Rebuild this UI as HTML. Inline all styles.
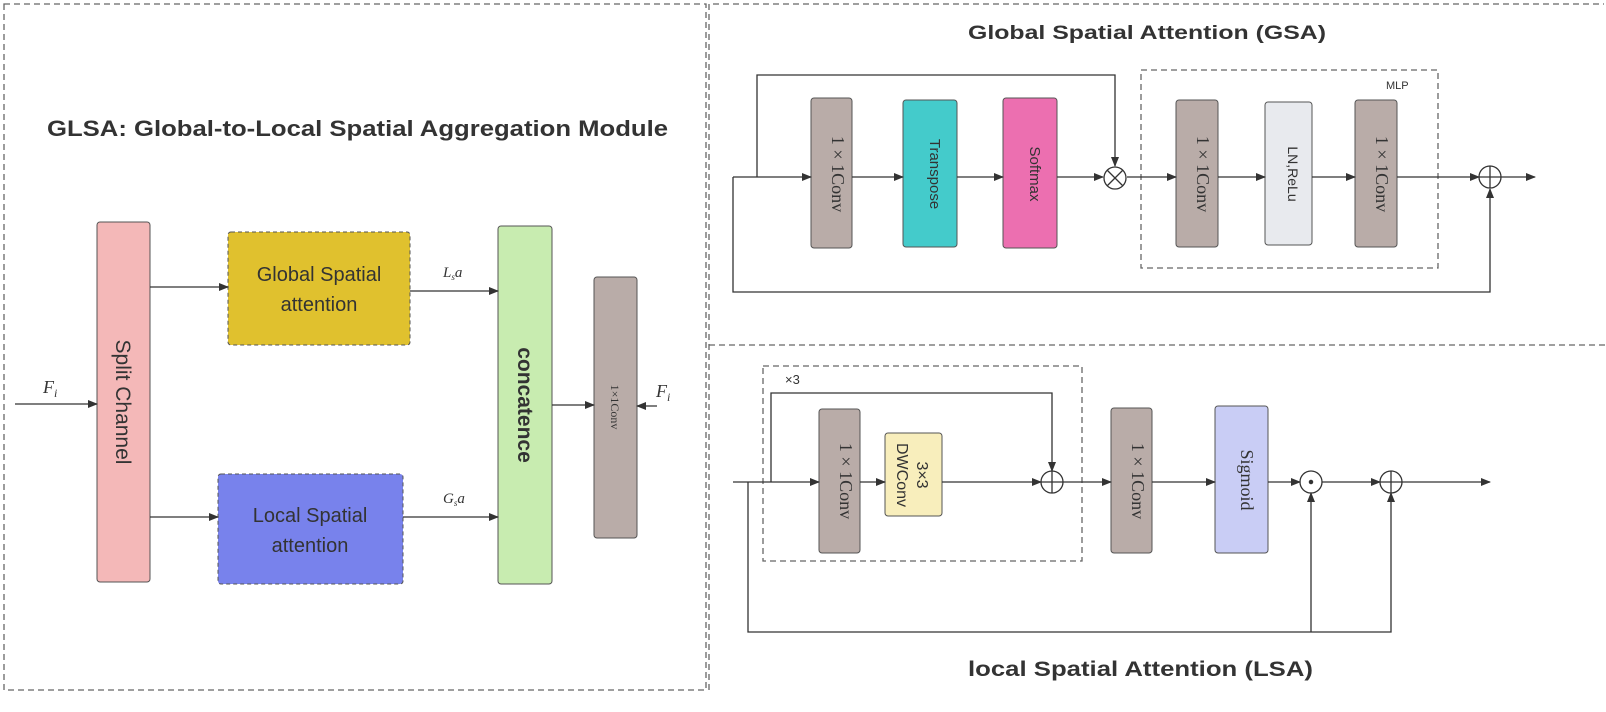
<!DOCTYPE html>
<html><head><meta charset="utf-8"><style>
html,body{margin:0;padding:0;background:#fff}
svg{display:block}
text{font-family:"Liberation Sans",sans-serif;fill:#333}
.serif{font-family:"Liberation Serif",serif}
</style></head><body>
<svg width="1606" height="712" viewBox="0 0 1606 712" xmlns="http://www.w3.org/2000/svg">
<defs>
<marker id="a" markerWidth="10" markerHeight="8" refX="9" refY="4" orient="auto" markerUnits="userSpaceOnUse">
<path d="M0,0 L10,4 L0,8 z" fill="#333"/></marker>
</defs>
<g fill="none" stroke="#666" stroke-width="1.3" stroke-dasharray="6,4">
<rect x="4" y="4" width="702" height="686"/>
<path d="M709,690 V4 H1604"/>
<path d="M709,345 H1606"/>
<rect x="1141" y="70" width="297" height="198"/>
<rect x="763" y="366" width="319" height="195"/>
</g>
<text x="47" y="136" font-size="22" font-weight="bold" textLength="621" lengthAdjust="spacingAndGlyphs" fill="#444">GLSA: Global-to-Local Spatial Aggregation Module</text>
<text x="968" y="39" font-size="19" font-weight="bold" textLength="358" lengthAdjust="spacingAndGlyphs" fill="#444">Global Spatial Attention (GSA)</text>
<text x="968" y="676" font-size="21" font-weight="bold" textLength="345" lengthAdjust="spacingAndGlyphs" fill="#444">local Spatial Attention (LSA)</text>

<!-- Left panel -->
<g stroke="#555" stroke-width="1">
<rect x="97" y="222" width="53" height="360" rx="3" fill="#f4b8b8"/>
<rect x="228" y="232" width="182" height="113" rx="3" fill="#e0c12e" stroke-dasharray="4,3"/>
<rect x="218" y="474" width="185" height="110" rx="3" fill="#7882ec" stroke-dasharray="4,3"/>
<rect x="498" y="226" width="54" height="358" rx="3" fill="#c8ecb0"/>
<rect x="594" y="277" width="43" height="261" rx="3" fill="#b9aca8"/>
</g>
<g stroke="#333" stroke-width="1.3" fill="none" marker-end="url(#a)">
<path d="M15,404 H97"/><path d="M150,287 H228"/><path d="M410,291 H498"/>
<path d="M150,517 H218"/><path d="M403,517 H498"/><path d="M552,405 H594"/><path d="M657,406 H637"/>
</g>
<text class="serif" x="43" y="393" font-size="18" font-style="italic">F<tspan font-size="12" dy="4">i</tspan></text>
<text class="serif" x="656" y="397" font-size="18" font-style="italic">F<tspan font-size="12" dy="4">i</tspan></text>
<text class="serif" x="443" y="277" font-size="15" font-style="italic">L<tspan font-size="9" dy="3">s</tspan><tspan dy="-3">a</tspan></text>
<text class="serif" x="443" y="503" font-size="15" font-style="italic">G<tspan font-size="9" dy="3">s</tspan><tspan dy="-3">a</tspan></text>
<text x="319" y="281" font-size="20" text-anchor="middle">Global Spatial</text>
<text x="319" y="311" font-size="20" text-anchor="middle">attention</text>
<text x="310" y="522" font-size="20" text-anchor="middle">Local Spatial</text>
<text x="310" y="552" font-size="20" text-anchor="middle">attention</text>
<text transform="translate(116,402) rotate(90)" font-size="21" text-anchor="middle">Split  Channel</text>
<text transform="translate(518,405) rotate(90)" font-size="21" font-weight="bold" text-anchor="middle">concatence</text>
<text class="serif" transform="translate(611,407) rotate(90)" font-size="12" text-anchor="middle">1×1Conv</text>

<!-- GSA -->
<g stroke="#555" stroke-width="1">
<rect x="811" y="98" width="41" height="150" rx="3" fill="#b9aca8"/>
<rect x="903" y="100" width="54" height="147" rx="3" fill="#44cbcb"/>
<rect x="1003" y="98" width="54" height="150" rx="3" fill="#ec6fb0"/>
<rect x="1176" y="100" width="42" height="147" rx="3" fill="#b9aca8"/>
<rect x="1265" y="102" width="47" height="143" rx="3" fill="#e8eaee"/>
<rect x="1355" y="100" width="42" height="147" rx="3" fill="#b9aca8"/>
</g>
<g stroke="#333" stroke-width="1.3" fill="none">
<path d="M733,177 H811" marker-end="url(#a)"/>
<path d="M852,177 H903" marker-end="url(#a)"/>
<path d="M957,177 H1003" marker-end="url(#a)"/>
<path d="M1057,177 H1103" marker-end="url(#a)"/>
<path d="M1127,177 H1176" marker-end="url(#a)"/>
<path d="M1218,177 H1265" marker-end="url(#a)"/>
<path d="M1312,177 H1355" marker-end="url(#a)"/>
<path d="M1397,177 H1479" marker-end="url(#a)"/>
<path d="M1501,177 H1535" marker-end="url(#a)"/>
<path d="M757,177 V75 H1115 V166" marker-end="url(#a)"/>
<path d="M733,177 V292 H1490 V189" marker-end="url(#a)"/>
<circle cx="1115" cy="178" r="11"/><path d="M1107,170 L1123,186 M1123,170 L1107,186"/>
<circle cx="1490" cy="177" r="11"/><path d="M1479,177 H1501 M1490,166 V188"/>
</g>
<text x="1386" y="89" font-size="11" fill="#555">MLP</text>
<text class="serif" transform="translate(832,174) rotate(90)" font-size="18" text-anchor="middle">1 × 1Conv</text>
<text transform="translate(930,174) rotate(90)" font-size="15" text-anchor="middle">Transpose</text>
<text transform="translate(1030,174) rotate(90)" font-size="15" text-anchor="middle">Softmax</text>
<text class="serif" transform="translate(1197,174) rotate(90)" font-size="18" text-anchor="middle">1 × 1Conv</text>
<text transform="translate(1288,174) rotate(90)" font-size="14" text-anchor="middle">LN,ReLu</text>
<text class="serif" transform="translate(1376,174) rotate(90)" font-size="18" text-anchor="middle">1 × 1Conv</text>

<!-- LSA -->
<g stroke="#555" stroke-width="1">
<rect x="819" y="409" width="41" height="144" rx="3" fill="#b9aca8"/>
<rect x="885" y="433" width="57" height="83" rx="3" fill="#f8eebc"/>
<rect x="1111" y="408" width="41" height="145" rx="3" fill="#b9aca8"/>
<rect x="1215" y="406" width="53" height="147" rx="3" fill="#c9cdf5"/>
</g>
<g stroke="#333" stroke-width="1.3" fill="none">
<path d="M733,482 H819" marker-end="url(#a)"/>
<path d="M860,482 H885" marker-end="url(#a)"/>
<path d="M942,482 H1041" marker-end="url(#a)"/>
<path d="M1063,482 H1111" marker-end="url(#a)"/>
<path d="M1152,482 H1215" marker-end="url(#a)"/>
<path d="M1268,482 H1300" marker-end="url(#a)"/>
<path d="M1322,482 H1380" marker-end="url(#a)"/>
<path d="M1402,482 H1490" marker-end="url(#a)"/>
<path d="M771,482 V393 H1052 V471" marker-end="url(#a)"/>
<path d="M748,482 V632 H1391 V493" marker-end="url(#a)"/>
<path d="M1311,632 V493" marker-end="url(#a)"/>
<circle cx="1052" cy="482" r="11"/><path d="M1041,482 H1063 M1052,471 V493"/>
<circle cx="1311" cy="482" r="11"/><circle cx="1311" cy="482" r="1.6" fill="#333"/>
<circle cx="1391" cy="482" r="11"/><path d="M1380,482 H1402 M1391,471 V493"/>
</g>
<text x="785" y="384" font-size="13" fill="#555">×3</text>
<text class="serif" transform="translate(840,481) rotate(90)" font-size="18" text-anchor="middle">1 × 1Conv</text>
<text transform="translate(917,475) rotate(90)" font-size="16" text-anchor="middle">3×3</text>
<text transform="translate(897,475) rotate(90)" font-size="16" text-anchor="middle">DWConv</text>
<text class="serif" transform="translate(1132,481) rotate(90)" font-size="18" text-anchor="middle">1 × 1Conv</text>
<text class="serif" transform="translate(1241,480) rotate(90)" font-size="18" text-anchor="middle">Sigmoid</text>
</svg>
</body></html>
